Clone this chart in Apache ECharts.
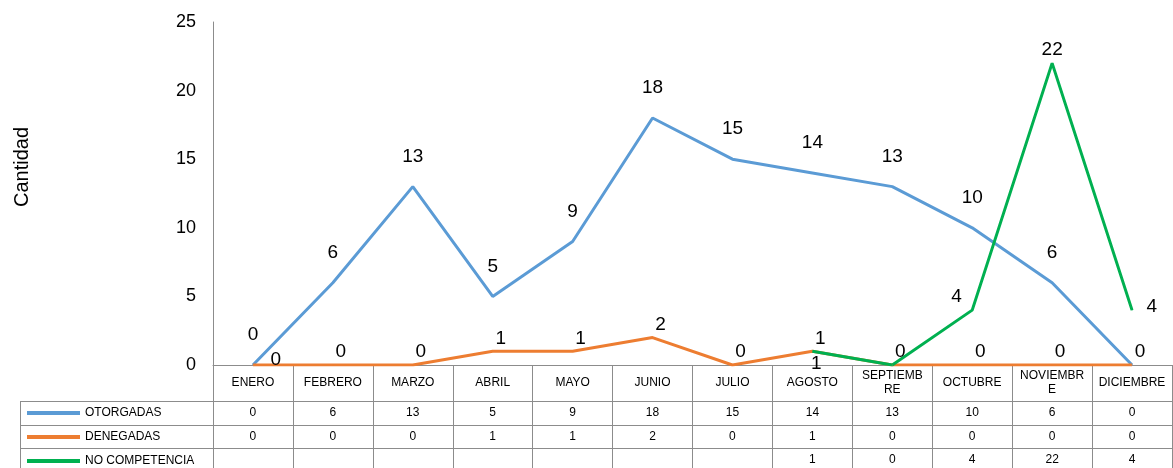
<!DOCTYPE html>
<html>
<head>
<meta charset="utf-8">
<title>Cantidad por mes</title>
<script src="https://cdn.jsdelivr.net/npm/echarts@6/dist/echarts.min.js"></script>
<style>
  html, body { margin: 0; padding: 0; background: #fff; }
  #chart { width: 1173px; height: 468px; }
</style>
</head>
<body>
<div id="chart"></div>
<script>
// datos del gráfico
const months = ['ENERO', 'FEBRERO', 'MARZO', 'ABRIL', 'MAYO', 'JUNIO', 'JULIO', 'AGOSTO', 'SEPTIEMBRE', 'OCTUBRE', 'NOVIEMBRE', 'DICIEMBRE'];
const monthLabels = ['ENERO', 'FEBRERO', 'MARZO', 'ABRIL', 'MAYO', 'JUNIO', 'JULIO', 'AGOSTO', 'SEPTIEMB\nRE', 'OCTUBRE', 'NOVIEMBR\nE', 'DICIEMBRE'];
const otorgadas = [0, 6, 13, 5, 9, 18, 15, 14, 13, 10, 6, 0];
const denegadas = [0, 0, 0, 1, 1, 2, 0, 1, 0, 0, 0, 0];
const noCompetencia = [null, null, null, null, null, null, null, 1, 0, 4, 22, 4];
const yMin = 0, yMax = 25, yStep = 5;

(function() {
  'use strict';

  const chart = echarts.init(document.getElementById('chart'));

  const gridColor = '#8c8c8c';
  const font = 'Liberation Sans, Arial, sans-serif';

  // filas de la tabla de datos bajo el gráfico (ejes extra con offset)
  function tableAxis(values, offset, tickLen) {
    return {
      type: 'category',
      data: months,
      position: 'bottom',
      offset: offset,
      axisLine: { show: true, lineStyle: { color: gridColor, width: 1 } },
      axisTick: { show: true, interval: 0, length: tickLen, lineStyle: { color: gridColor } },
      axisLabel: {
        interval: 0,
        margin: 12,
        verticalAlign: 'middle',
        fontSize: 12,
        fontFamily: font,
        color: '#000',
        formatter: function(v, i) {
          return values[i] == null ? '' : String(values[i]);
        }
      },
      splitLine: { show: false }
    };
  }

  // etiquetas de datos: posición por punto
  function withLabels(values, overrides) {
    return values.map(function(v, i) {
      if (overrides[i]) return { value: v, label: overrides[i] };
      return v;
    });
  }

  const labelBase = { show: true, color: '#000', fontSize: 19, fontFamily: font };

  function lineSeries(name, color, values, label, overrides) {
    return {
      name: name,
      type: 'line',
      symbol: 'circle',
      symbolSize: 1,
      showSymbol: true,
      color: color,
      lineStyle: { width: 3 },
      label: Object.assign(label, labelBase),
      data: withLabels(values, overrides)
    };
  }

  const option = {
    animation: false,
    textStyle: { fontFamily: font },
    grid: { left: 213, right: 1, top: 22, bottom: 103 },
    legend: {
      orient: 'vertical',
      left: 27,
      top: 406,
      height: 80,
      padding: 0,
      itemGap: 10,
      itemWidth: 53,
      itemHeight: 4,
      icon: 'rect',
      textStyle: { fontSize: 12, fontFamily: font, color: '#000', lineHeight: 14 },
      data: ['OTORGADAS', 'DENEGADAS', 'NO COMPETENCIA']
    },
    xAxis: [
      {
        type: 'category',
        data: months,
        position: 'bottom',
        axisLine: { show: true, lineStyle: { color: gridColor, width: 1 } },
        axisTick: { show: true, interval: 0, length: 36, lineStyle: { color: gridColor } },
        axisLabel: {
          interval: 0,
          margin: 18,
          verticalAlign: 'middle',
          fontSize: 12,
          lineHeight: 14,
          fontFamily: font,
          color: '#000',
          formatter: function(v, i) { return monthLabels[i]; }
        },
        splitLine: { show: false }
      },
      tableAxis(otorgadas, 36, 24),
      tableAxis(denegadas, 60, 23),
      tableAxis(noCompetencia, 83, 20)
    ],
    yAxis: {
      type: 'value',
      min: yMin,
      max: yMax,
      interval: yStep,
      axisLine: { show: true, lineStyle: { color: gridColor, width: 1 } },
      axisTick: { show: false },
      splitLine: { show: false },
      axisLabel: { fontSize: 18, color: '#000', margin: 17, fontFamily: font }
    },
    graphic: [
      {
        type: 'text',
        x: 22, y: 167,
        rotation: Math.PI / 2,
        style: { text: 'Cantidad', fontSize: 20, fontFamily: font, fill: '#000', align: 'center', verticalAlign: 'middle' }
      },
      { type: 'line', shape: { x1: 20, y1: 401.5, x2: 213, y2: 401.5 }, style: { stroke: gridColor, lineWidth: 1 } },
      { type: 'line', shape: { x1: 20, y1: 425.5, x2: 213, y2: 425.5 }, style: { stroke: gridColor, lineWidth: 1 } },
      { type: 'line', shape: { x1: 20, y1: 448.5, x2: 213, y2: 448.5 }, style: { stroke: gridColor, lineWidth: 1 } },
      { type: 'line', shape: { x1: 20.5, y1: 401, x2: 20.5, y2: 468 }, style: { stroke: gridColor, lineWidth: 1 } }
    ],
    series: [
      // el 0 de diciembre queda tapado por el de DENEGADAS
      lineSeries('OTORGADAS', '#5B9BD5', otorgadas,
        { position: 'top', distance: 20 },
        { 11: { show: false } }),
      lineSeries('DENEGADAS', '#ED7D31', denegadas,
        { position: 'top', distance: 3, offset: [8, 0] },
        { 0: { position: 'right', distance: 17, offset: [0, -5] } }),
      lineSeries('NO COMPETENCIA', '#00B050', noCompetencia,
        { position: 'top', distance: 3 },
        {
          7: { position: 'bottom', distance: 2, offset: [4, 0] },
          8: { show: false },
          9: { position: 'left', distance: 10, offset: [0, -13] },
          11: { position: 'right', distance: 14, offset: [0, -3] }
        })
    ]
  };

  chart.setOption(option);

  window.addEventListener('resize', function() {
    chart.resize();
  });
})();
</script>
</body>
</html>
